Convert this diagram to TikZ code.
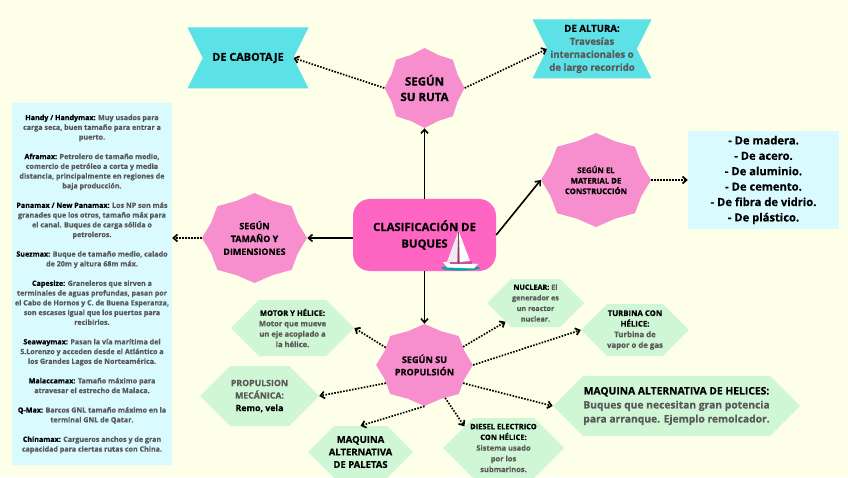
\documentclass[tikz,border=0pt]{standalone}
\usepackage{fontspec}
\setmainfont{Open Sans}[BoldFeatures={FakeBold=0.5}]
\usepackage{xcolor}
\usetikzlibrary{shapes,arrows.meta,positioning}
\definecolor{paper}{HTML}{FDFFE8}
\definecolor{hotpink}{HTML}{FF66C4}
\definecolor{burstpink}{HTML}{F78FCE}
\definecolor{ribbon}{HTML}{5CE1E6}
\definecolor{mint}{HTML}{CFF7D6}
\definecolor{pale}{HTML}{D9FBFF}
\definecolor{soft}{HTML}{595959}
\newcommand{\gr}[1]{\textcolor{soft}{#1}}
\tikzstyle{burst} = [star, star points=8, star point ratio=1.12, fill=burstpink, inner sep=0pt]
\tikzstyle{burstlabel} = [align=center, text=black, font=\bfseries, inner sep=0pt]
\tikzstyle{hexa} = [signal, signal to=east and west, signal pointer angle=90, fill=mint, align=center, inner sep=0pt, text=black, font=\bfseries]
\tikzstyle{flag} = [signal, signal to=nowhere, signal from=east and west, signal pointer angle=127, fill=ribbon, align=center, inner sep=0pt, text=black, font=\bfseries]
\tikzstyle{infobox} = [rectangle, fill=pale, align=center, inner sep=0pt, text=black, font=\bfseries]
\tikzstyle{tedge} = [draw, line width=1.6pt, -{Straight Barb[length=4pt,width=7pt]}]
\tikzstyle{dedge} = [draw, line width=1.7pt, dash pattern=on 1.6pt off 1.4pt, -{Straight Barb[length=4pt,width=7pt]}]

\begin{document}
\begin{tikzpicture}[x=1pt, y=1pt, on grid]
\useasboundingbox[fill=paper] (0,0) rectangle (848,477);

% main topic =============================
\node[rectangle, rounded corners=17pt, fill=hotpink, minimum width=143pt, minimum height=72pt, align=center, font=\fontsize{11.3}{16.6}\bfseries] (clas) at (424.5,242) {CLASIFICACIÓN DE\\BUQUES};

% boat
\fill[teal!70!cyan] (460.5,209) ellipse (19.5pt and 2.6pt);
\fill[white] (443,215) -- (478,213) -- (474,208.5) -- (447,209.5) -- cycle;
\fill[hotpink!80!black] (450,213) rectangle (472,215.5);
\fill[gray!15] (458,245) -- (447,215) -- (457,215) -- cycle;
\fill[white] (459,245) -- (460,215) -- (470,216) -- cycle;
\draw[gray!70!black, line width=0.6pt] (458.5,245) -- (458.5,213);

% route ==================================
\node[burst, minimum size=80pt, above=147pt of clas] (ruta) {};
\node[burstlabel, font=\fontsize{11.5}{15.5}\bfseries] (rutatxt) at (ruta) {SEGÚN\\SU RUTA};
\node[flag, minimum width=121pt, minimum height=61pt, font=\fontsize{10.9}{13}\bfseries, above left=30pt and 176.5pt of ruta] (cabotaje) {DE CABOTAJE};
\node[flag, minimum width=119pt, minimum height=59pt, font=\fontsize{9.6}{13}\bfseries, above right=39pt and 167.5pt of ruta] (altura) {DE ALTURA:\\\gr{Travesías}\\\gr{internacionales o}\\\gr{de largo recorrido}};

% material ===============================
\node[burst, minimum size=94pt, xscale=1.17, transform shape, above right=55pt and 171.5pt of clas] (material) {};
\node[burstlabel, font=\fontsize{7.8}{10.5}\bfseries] (materialtxt) at (material) {SEGÚN EL\\MATERIAL DE\\CONSTRUCCIÓN};
\node[infobox, minimum width=151pt, minimum height=98pt, font=\fontsize{11.2}{15.4}\bfseries, right=167.5pt of material] (matlist) {- De madera.\\- De acero.\\- De aluminio.\\- De cemento.\\- De fibra de vidrio.\\- De plástico.};

% size ===================================
\node[burst, minimum size=90pt, xscale=1.167, transform shape, below left=3pt and 170pt of clas] (tamano) {};
\node[burstlabel, font=\fontsize{8.9}{12.8}\bfseries] (tamanotxt) at (tamano) {SEGÚN\\TAMAÑO Y\\DIMENSIONES};
\node[infobox, minimum width=160pt, minimum height=362pt, font=\fontsize{7.15}{9.75}\bfseries, below left=46pt and 162.5pt of tamano] (sizelist) {%
Handy / Handymax: \gr{Muy usados para}\\\gr{carga seca, buen tamaño para entrar a}\\\gr{puerto.}\\[9.75pt]
Aframax: \gr{Petrolero de tamaño medio,}\\\gr{comercio de petróleo a corta y media}\\\gr{distancia, principalmente en regiones de}\\\gr{baja producción.}\\[9.75pt]
Panamax / New Panamax: \gr{Los NP son más}\\\gr{granades que los otros, tamaño máx para}\\\gr{el canal. Buques de carga sólida o}\\\gr{petroleros.}\\[9.75pt]
Suezmax: \gr{Buque de tamaño medio, calado}\\\gr{de 20m y altura 68m máx.}\\[9.75pt]
Capesize: \gr{Graneleros que sirven a}\\\gr{terminales de aguas profundas, pasan por}\\\gr{el Cabo de Hornos y C. de Buena Esperanza,}\\\gr{son escasos igual que los puertos para}\\\gr{recibirlos.}\\[9.75pt]
Seawaymax: \gr{Pasan la vía marítima del}\\\gr{S.Lorenzo y acceden desde el Atlántico a}\\\gr{los Grandes Lagos de Norteamérica.}\\[9.75pt]
Malaccamax: \gr{Tamaño máximo para}\\\gr{atravesar el estrecho de Malaca.}\\[9.75pt]
Q-Max: \gr{Barcos GNL tamaño máximo en la}\\\gr{terminal GNL de Qatar.}\\[9.75pt]
Chinamax: \gr{Cargueros anchos y de gran}\\\gr{capacidad para ciertas rutas con China.}};

% propulsion =============================
\node[burst, minimum size=82pt, xscale=1.18, transform shape, below=130pt of clas] (prop) {};
\node[burstlabel, font=\fontsize{9.1}{12.4}\bfseries] (proptxt) at (prop) {SEGÚN SU\\PROPULSIÓN};
\node[hexa, minimum width=121pt, minimum height=56pt, font=\fontsize{7.6}{10.4}\bfseries, above left=37pt and 132pt of prop] (motor) {MOTOR Y HÉLICE:\\\gr{Motor que mueve}\\\gr{un eje acoplado a}\\\gr{la hélice.}};
\node[hexa, minimum width=119pt, minimum height=60pt, font=\fontsize{8.75}{12.5}\bfseries, below left=31pt and 165pt of prop] (mecanica) {\gr{PROPULSION}\\\gr{MECÁNICA:}\\Remo, vela};
\node[hexa, minimum width=105pt, minimum height=52pt, inner xsep=-6pt, font=\fontsize{9.5}{12.5}\bfseries, below left=87pt and 64pt of prop] (paletas) {MAQUINA\\ALTERNATIVA\\DE PALETAS};
\node[hexa, minimum width=121pt, minimum height=60pt, inner xsep=-8pt, font=\fontsize{7.5}{10.7}\bfseries, below right=83pt and 79pt of prop] (diesel) {DIESEL ELECTRICO\\CON HÉLICE:\\\gr{Sistema usado}\\\gr{por los}\\\gr{submarinos.}};
\node[hexa, minimum width=97pt, minimum height=48pt, font=\fontsize{7.2}{10.6}\bfseries, above right=62pt and 111pt of prop] (nuclear) {NUCLEAR: \gr{El}\\\gr{generador es}\\\gr{un reactor}\\\gr{nuclear.}};
\node[hexa, minimum width=104pt, minimum height=52pt, font=\fontsize{7.8}{10.6}\bfseries, above right=35pt and 210.5pt of prop] (turbina) {TURBINA CON\\HÉLICE:\\\gr{Turbina de}\\\gr{vapor o de gas}};
\node[hexa, minimum width=247pt, minimum height=60pt, font=\fontsize{10.3}{14}\bfseries, below right=41pt and 252pt of prop] (helices) {MAQUINA ALTERNATIVA DE HELICES:\\\gr{Buques que necesitan gran potencia}\\\gr{para arranque. Ejemplo remolcador.}};

%edges
\path[tedge] (clas.north) -- (ruta.south);
\path[tedge] (clas.east) -- (material.west);
\path[tedge] (tamano.east -| clas.west) -- (tamano.east);
\path[tedge] (clas.south) -- (prop.north);

\path[dedge] (ruta.west) -- (cabotaje.east);
\path[dedge] (ruta.east) -- (altura.west);
\path[dedge] (material.east) -- (matlist.west);
\path[dedge] (tamano.west) -- (tamano.west -| sizelist.east);

\path[dedge] (prop.152) -- (motor.east);
\path[dedge] (prop.209) -- (mecanica.east);
\path[dedge] (prop.south) -- (paletas.north);
\path[dedge] (prop.298) -- (diesel.151);
\path[dedge] (prop.29) -- (nuclear.212);
\path[dedge] (prop.east) -- (turbina.west);
\path[dedge] (prop.331) -- (helices.west);

\end{tikzpicture}
\end{document}
